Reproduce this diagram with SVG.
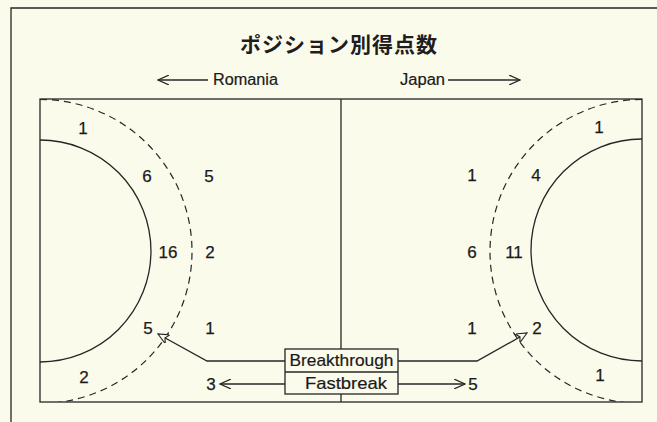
<svg xmlns="http://www.w3.org/2000/svg" width="657" height="422" viewBox="0 0 657 422">
<defs>
<style>
.ln{fill:none;stroke:#262626;stroke-width:1.3}
.dash{fill:none;stroke:#262626;stroke-width:1.2;stroke-dasharray:7 5}
.num{font-family:"Liberation Sans","DejaVu Sans",sans-serif;font-size:17px;fill:#1a1a1a;text-anchor:middle;stroke:#1a1a1a;stroke-width:0.25}
.lbl{font-family:"Liberation Sans","DejaVu Sans",sans-serif;font-size:16px;fill:#1a1a1a;stroke:#1a1a1a;stroke-width:0.2}
.box{font-family:"Liberation Sans","DejaVu Sans",sans-serif;font-size:17px;fill:#1a1a1a;text-anchor:middle;stroke:#1a1a1a;stroke-width:0.2}
</style>
<marker id="v" viewBox="0 0 12 10" refX="11" refY="5" markerWidth="12" markerHeight="10" markerUnits="userSpaceOnUse" orient="auto">
<path d="M0,0 L11,5 L0,10" fill="none" stroke="#262626" stroke-width="1.2"/>
</marker>
<marker id="tri" viewBox="0 0 12 10" refX="11" refY="5" markerWidth="12" markerHeight="10" markerUnits="userSpaceOnUse" orient="auto">
<path d="M0,0 L11,5 L0,10 L3,5 Z" fill="#fbfbec" stroke="#262626" stroke-width="1.1"/>
</marker>
<clipPath id="court"><rect x="40" y="99" width="602" height="303"/></clipPath>
</defs>
<rect width="657" height="422" fill="#fbfbec"/>
<g id="frame">
<path class="ln" d="M11,422 V8 H657"/>
</g>
<g id="title">
<text x="339" y="52" font-family="'Noto Sans CJK JP',sans-serif" font-weight="bold" font-size="21" letter-spacing="1" text-anchor="middle" fill="#1e1e1e">ポジション別得点数</text>
</g>
<g id="legend-romania">
<text class="lbl" x="213" y="85" textLength="65" lengthAdjust="spacingAndGlyphs">Romania</text>
</g>
<g id="legend-japan">
<text class="lbl" x="400" y="85" textLength="45" lengthAdjust="spacingAndGlyphs">Japan</text>
</g>
<g id="court-shape">
<rect class="ln" x="40" y="99" width="602" height="303"/>
<line class="ln" x1="341" y1="99" x2="341" y2="402"/>
<g clip-path="url(#court)">
<path class="ln" d="M40,140 A111,111 0 0 1 40,362"/>
<path class="ln" d="M642,139 A111,111 0 0 0 642,361"/>
<path class="dash" d="M40,99.5 A152,152 0 0 1 40,403.5"/>
<path class="dash" d="M642,99.5 A152,152 0 0 0 642,403.5"/>
</g>
</g>
<g id="romania-numbers">
<text class="num" x="83" y="134">1</text>
<text class="num" x="147" y="182">6</text>
<text class="num" x="209" y="182">5</text>
<text class="num" x="168" y="258">16</text>
<text class="num" x="210" y="258">2</text>
<text class="num" x="148" y="334">5</text>
<text class="num" x="210" y="334">1</text>
<text class="num" x="84" y="383">2</text>
<text class="num" x="211" y="390">3</text>
</g>
<g id="japan-numbers">
<text class="num" x="599" y="133">1</text>
<text class="num" x="472" y="181">1</text>
<text class="num" x="536" y="181">4</text>
<text class="num" x="472" y="258">6</text>
<text class="num" x="514" y="258">11</text>
<text class="num" x="472" y="334">1</text>
<text class="num" x="537" y="334">2</text>
<text class="num" x="600" y="381">1</text>
<text class="num" x="473" y="390">5</text>
</g>
<g id="legend-box">
<rect x="285" y="349" width="113" height="45" fill="#fbfbec" stroke="#262626" stroke-width="1.3"/>
<line class="ln" x1="285" y1="372" x2="398" y2="372"/>
<text class="box" x="341.5" y="366" textLength="104" lengthAdjust="spacingAndGlyphs">Breakthrough</text>
<text class="box" x="346" y="389" textLength="82" lengthAdjust="spacingAndGlyphs">Fastbreak</text>
</g>
<g id="connectors">
<path class="ln" d="M208,80 H158" marker-end="url(#v)"/>
<path class="ln" d="M448,80 H520" marker-end="url(#v)"/>
<path class="ln" d="M285,361 H207 L158,334" marker-end="url(#tri)"/>
<path class="ln" d="M398,361 H477 L527,333" marker-end="url(#tri)"/>
<path class="ln" d="M285,384 H220" marker-end="url(#v)"/>
<path class="ln" d="M398,384 H465" marker-end="url(#v)"/>
</g>
</svg>
